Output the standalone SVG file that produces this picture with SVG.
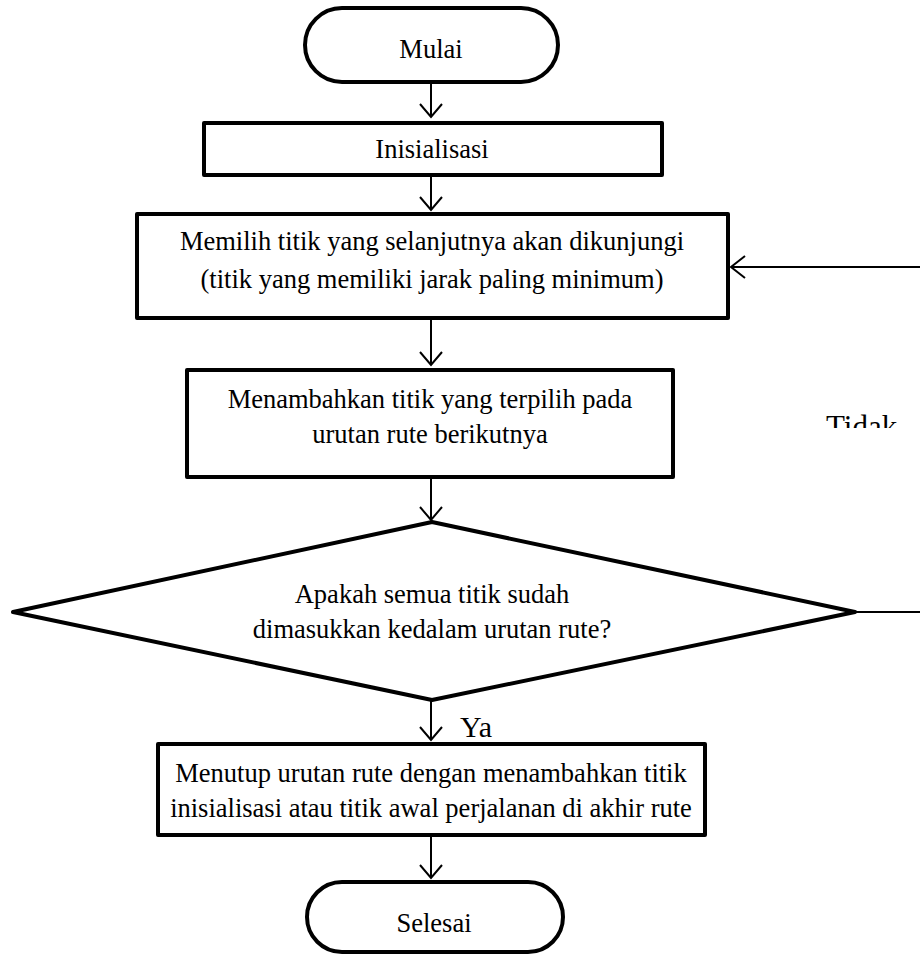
<svg xmlns="http://www.w3.org/2000/svg" width="920" height="960" viewBox="0 0 920 960">
<style>
.box{fill:#fff;stroke:#000;stroke-width:4;stroke-linejoin:round}
.c{fill:none;stroke:#000;stroke-width:2}
.ah{fill:none;stroke:#000;stroke-width:2}
</style>
<rect width="920" height="960" fill="#fff"/>
<g id="connectors">
<line class="c" x1="431" y1="82" x2="431" y2="117"/>
<polyline class="ah" points="420,104 431,117 442,104"/>
<line class="c" x1="431" y1="175" x2="431" y2="210"/>
<polyline class="ah" points="420,197 431,210 442,197"/>
<line class="c" x1="431" y1="318" x2="431" y2="365"/>
<polyline class="ah" points="420,352 431,365 442,352"/>
<line class="c" x1="431" y1="477" x2="431" y2="520"/>
<polyline class="ah" points="420,507 431,520 442,507"/>
<line class="c" x1="431" y1="700" x2="431" y2="740"/>
<polyline class="ah" points="420,727 431,740 442,727"/>
<line class="c" x1="431" y1="835" x2="431" y2="878"/>
<polyline class="ah" points="420,865 431,878 442,865"/>
<line class="c" x1="855" y1="612" x2="920" y2="612" stroke-width="1.5"/>
<line class="c" x1="920" y1="267" x2="731" y2="267"/>
<polyline class="ah" points="745,256 731,267 745,278"/>
<text x="460" y="737" font-family="Liberation Serif, serif" font-size="30">Ya</text>
<text x="826" y="437" font-family="Liberation Serif, serif" font-size="31">Tidak</text>
<rect x="780" y="428" width="140" height="20" fill="#fff"/>
</g>
<g id="mulai">
<rect class="box" x="305" y="8" width="253" height="74" rx="37"/>
<text x="431" y="58" font-family="Liberation Serif, serif" font-size="26.5" text-anchor="middle">Mulai</text>
</g>
<g id="inisialisasi">
<rect class="box" x="204" y="123" width="458" height="52"/>
<text x="432" y="158" font-family="Liberation Serif, serif" font-size="26.5" text-anchor="middle">Inisialisasi</text>
</g>
<g id="memilih">
<rect class="box" x="137" y="214" width="591" height="104"/>
<text x="432" y="250" font-family="Liberation Serif, serif" font-size="26.5" text-anchor="middle">Memilih titik yang selanjutnya akan dikunjungi</text>
<text x="432" y="288" font-family="Liberation Serif, serif" font-size="26.5" text-anchor="middle">(titik yang memiliki jarak paling minimum)</text>
</g>
<g id="menambahkan">
<rect class="box" x="187" y="370" width="486" height="107"/>
<text x="430" y="408" font-family="Liberation Serif, serif" font-size="26.5" text-anchor="middle">Menambahkan titik yang terpilih pada</text>
<text x="430" y="443" font-family="Liberation Serif, serif" font-size="26.5" text-anchor="middle">urutan rute berikutnya</text>
</g>
<g id="keputusan">
<polygon class="box" points="432,522 855,612 432,700 13,612"/>
<text x="432" y="603" font-family="Liberation Serif, serif" font-size="26.5" text-anchor="middle">Apakah semua titik sudah</text>
<text x="432" y="638" font-family="Liberation Serif, serif" font-size="26.5" text-anchor="middle">dimasukkan kedalam urutan rute?</text>
</g>
<g id="menutup">
<rect class="box" x="158" y="744" width="547" height="91"/>
<text x="431" y="782" font-family="Liberation Serif, serif" font-size="26.5" text-anchor="middle">Menutup urutan rute dengan menambahkan titik</text>
<text x="431" y="817" font-family="Liberation Serif, serif" font-size="26.5" text-anchor="middle">inisialisasi atau titik awal perjalanan di akhir rute</text>
</g>
<g id="selesai">
<rect class="box" x="307" y="882" width="256" height="70" rx="35"/>
<text x="434" y="932" font-family="Liberation Serif, serif" font-size="26.5" text-anchor="middle">Selesai</text>
</g>
</svg>
